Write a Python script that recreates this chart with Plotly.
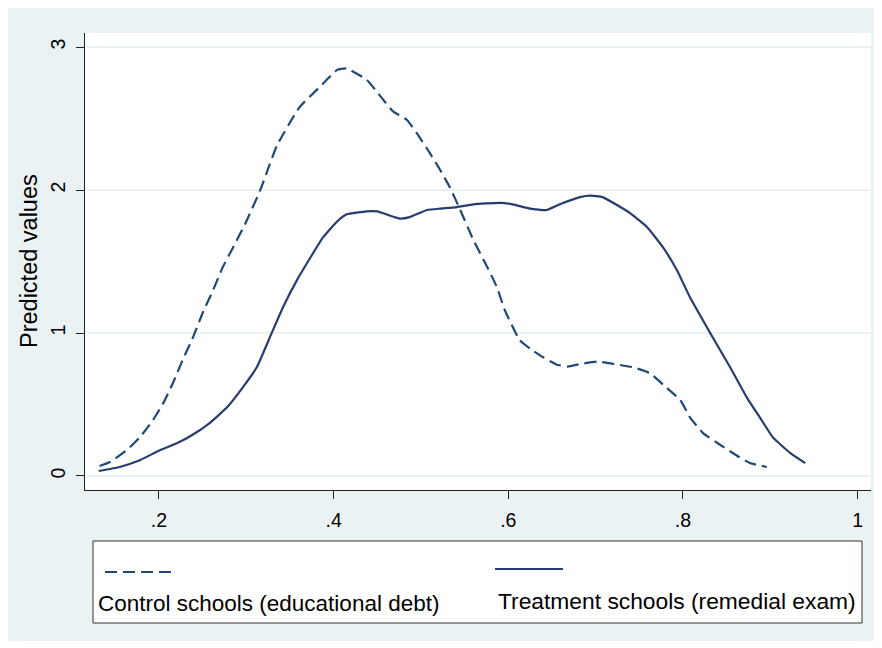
import plotly.graph_objects as go

# ---- data ----
control_x = [0.132, 0.144, 0.163, 0.178, 0.193, 0.205, 0.216, 0.227, 0.239, 0.250, 0.262,
             0.273, 0.285, 0.300, 0.316, 0.335, 0.361, 0.384, 0.404, 0.415, 0.438, 0.453,
             0.468, 0.484, 0.495, 0.510, 0.522, 0.533, 0.545, 0.560, 0.576, 0.587, 0.596,
             0.613, 0.625, 0.640, 0.655, 0.668, 0.684, 0.702, 0.724, 0.743, 0.762, 0.777, 0.797,
             0.808, 0.823, 0.842, 0.865, 0.877, 0.896]
control_y = [0.07, 0.098, 0.18, 0.27, 0.39, 0.51, 0.65, 0.81, 0.97, 1.14, 1.30,
             1.46, 1.60, 1.78, 2.00, 2.31, 2.58, 2.72, 2.84, 2.85, 2.77, 2.66,
             2.55, 2.49, 2.40, 2.26, 2.14, 2.02, 1.86, 1.65, 1.46, 1.32, 1.16,
             0.95, 0.89, 0.83, 0.78, 0.765, 0.785, 0.80, 0.78, 0.76, 0.72, 0.64, 0.53,
             0.41, 0.30, 0.22, 0.13, 0.09, 0.063]

treat_x = [0.131, 0.155, 0.178, 0.201, 0.221, 0.239, 0.258, 0.278, 0.296, 0.312, 0.327,
           0.342, 0.358, 0.388, 0.404, 0.415, 0.438, 0.450, 0.476, 0.487, 0.507, 0.522,
           0.541, 0.560, 0.590, 0.605, 0.625, 0.644, 0.659, 0.682, 0.694, 0.708, 0.739,
           0.759, 0.777, 0.793, 0.808, 0.834, 0.854, 0.873, 0.888, 0.903, 0.923, 0.940]
treat_y = [0.035, 0.063, 0.11, 0.18, 0.23, 0.29, 0.37, 0.48, 0.62, 0.76, 0.97,
           1.18, 1.37, 1.67, 1.78, 1.83, 1.85, 1.85, 1.80, 1.81, 1.86, 1.87,
           1.88, 1.90, 1.91, 1.90, 1.87, 1.86, 1.90, 1.95, 1.96, 1.95, 1.84,
           1.74, 1.60, 1.44, 1.25, 0.97, 0.76, 0.55, 0.41, 0.27, 0.16, 0.09]

x_ticks = [0.2, 0.4, 0.6, 0.8, 1.0]
x_tick_labels = [".2", ".4", ".6", ".8", "1"]
y_ticks = [0, 1, 2, 3]
y_tick_labels = ["0", "1", "2", "3"]

series_names = ["Control schools (educational debt)", "Treatment schools (remedial exam)"]
y_title = "Predicted values"

# ---- styling ----
FONT = "Liberation Sans, Arial, sans-serif"
BG = "#EAF2F3"
C_CTRL = "#1F4A78"
C_TREAT = "#283C70"

# page body has an 8px margin; figure spans window px 8..880 x 8..641
O = 8
W, H = 880 - O, 641 - O
# plot area in window pixels: x 85..871, y 33..490
L, R, T, B = 85, 871, 33, 490


def px(xp):
    return (xp - L) / (R - L)


def py(yp):
    return (B - yp) / (B - T)


fig = go.Figure()
fig.add_trace(go.Scatter(x=control_x, y=control_y, mode="lines", name=series_names[0],
                         line=dict(color=C_CTRL, width=2.2, dash="12px,6px",
                                   shape="spline", smoothing=0.4)))
fig.add_trace(go.Scatter(x=treat_x, y=treat_y, mode="lines", name=series_names[1],
                         line=dict(color=C_TREAT, width=2.2, shape="spline", smoothing=0.4)))

shapes = [
    # white plot region
    dict(type="rect", xref="paper", yref="paper", x0=0, x1=1, y0=0, y1=1,
         fillcolor="white", line=dict(width=0), layer="below"),
    # legend box
    dict(type="rect", xref="paper", yref="paper", x0=px(93), x1=px(862), y0=py(623), y1=py(541),
         fillcolor="white", line=dict(color="#333333", width=1), layer="above"),
    # legend samples
    dict(type="line", xref="paper", yref="paper", x0=px(105), x1=px(173), y0=py(572), y1=py(572),
         line=dict(color=C_CTRL, width=2.2, dash="12px,6px"), layer="above"),
    dict(type="line", xref="paper", yref="paper", x0=px(495), x1=px(563), y0=py(569), y1=py(569),
         line=dict(color=C_TREAT, width=2.2), layer="above"),
]

annotations = [
    dict(text=series_names[0], xref="paper", yref="paper", x=px(96), y=py(603),
         xanchor="left", yanchor="middle", showarrow=False,
         font=dict(family=FONT, size=22.5, color="black")),
    dict(text=series_names[1], xref="paper", yref="paper", x=px(496), y=py(601),
         xanchor="left", yanchor="middle", showarrow=False,
         font=dict(family=FONT, size=22.8, color="black")),
    dict(text=y_title, xref="paper", yref="paper", x=px(29), y=py(261),
         xanchor="center", yanchor="middle", textangle=-90, showarrow=False,
         font=dict(family=FONT, size=23.5, color="black")),
]

fig.update_layout(
    width=W, height=H,
    margin=dict(l=L - O, r=O + W - R, t=T - O, b=O + H - B, pad=0),
    paper_bgcolor=BG,
    plot_bgcolor="white",
    showlegend=False,
    shapes=shapes,
    annotations=annotations,
    font=dict(family=FONT, color="black"),
)

fig.update_xaxes(range=[0.1153, 1.0153], tickvals=x_ticks, ticktext=x_tick_labels,
                 showgrid=False, zeroline=False, showline=True, linecolor="#222222", linewidth=1,
                 ticks="outside", ticklen=8, tickcolor="#222222", tickwidth=1,
                 ticklabelstandoff=5,
                 tickfont=dict(family=FONT, size=19.5, color="black"))
fig.update_yaxes(range=[-0.098, 3.098], tickvals=y_ticks, ticktext=y_tick_labels,
                 showgrid=True, gridcolor=BG, gridwidth=2, zeroline=False,
                 showline=True, linecolor="#222222", linewidth=1,
                 ticks="outside", ticklen=8, tickcolor="#222222", tickwidth=1, tickangle=-90,
                 ticklabelstandoff=3,
                 tickfont=dict(family=FONT, size=19.5, color="black"))

fig.write_html("out.html")
